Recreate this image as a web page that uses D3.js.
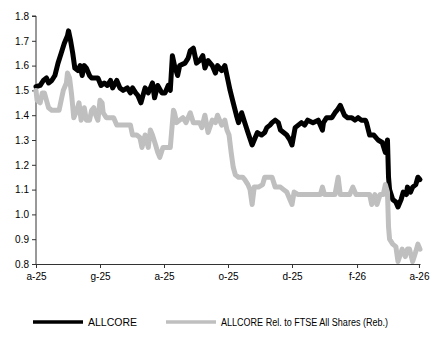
<!DOCTYPE html>
<html>
<head>
<meta charset="utf-8">
<script src="https://cdn.jsdelivr.net/npm/d3@7"></script>
<style>
  html, body { margin: 0; padding: 0; background: #fff; }
  svg { display: block; font-family: "Liberation Sans", Arial, sans-serif; }
</style>
</head>
<body>
<svg id="chart" width="433" height="341"></svg>
<script>
// ALLCORE price series
const allcoreDates = [
  "2025-04-01","2025-04-05","2025-04-08","2025-04-11","2025-04-13","2025-04-16","2025-04-19","2025-04-22",
  "2025-04-25","2025-04-28","2025-05-01","2025-05-02","2025-05-04","2025-05-06","2025-05-08","2025-05-11",
  "2025-05-13","2025-05-15","2025-05-17","2025-05-19","2025-05-22","2025-05-24","2025-05-27","2025-05-30",
  "2025-06-02","2025-06-05","2025-06-08","2025-06-11","2025-06-13","2025-06-17","2025-06-20","2025-06-23",
  "2025-06-27","2025-06-30","2025-07-02","2025-07-05","2025-07-07","2025-07-10","2025-07-14","2025-07-17",
  "2025-07-21","2025-07-23","2025-07-26","2025-07-30","2025-08-02","2025-08-05","2025-08-07","2025-08-09",
  "2025-08-11","2025-08-14","2025-08-16","2025-08-21","2025-08-24","2025-08-26","2025-08-29","2025-09-01",
  "2025-09-04","2025-09-07","2025-09-09","2025-09-12","2025-09-16","2025-09-19","2025-09-21","2025-09-25",
  "2025-09-28","2025-10-01","2025-10-03","2025-10-06","2025-10-09","2025-10-11","2025-10-14","2025-10-17",
  "2025-10-20","2025-10-24","2025-10-27","2025-10-29","2025-11-02","2025-11-05","2025-11-07","2025-11-10",
  "2025-11-12","2025-11-15","2025-11-18","2025-11-20","2025-11-23","2025-11-26","2025-11-29","2025-12-01",
  "2025-12-04","2025-12-07","2025-12-10","2025-12-13","2025-12-16","2025-12-21","2025-12-26","2025-12-30",
  "2025-12-31","2026-01-03","2026-01-08","2026-01-11","2026-01-13","2026-01-16","2026-01-19","2026-01-20",
  "2026-01-23","2026-01-27","2026-01-30","2026-02-02","2026-02-05","2026-02-09","2026-02-10","2026-02-13",
  "2026-02-17","2026-02-21","2026-02-25","2026-02-28","2026-03-02","2026-03-03","2026-03-04","2026-03-07",
  "2026-03-10","2026-03-12","2026-03-15","2026-03-17","2026-03-20","2026-03-21","2026-03-24","2026-03-26",
  "2026-03-29","2026-03-31","2026-04-02"
];
const allcoreValues = [
  1.515,1.52,1.54,1.55,1.53,1.54,1.56,1.61,
  1.65,1.69,1.72,1.74,1.70,1.65,1.59,1.58,
  1.60,1.56,1.60,1.59,1.56,1.55,1.55,1.55,
  1.52,1.53,1.52,1.54,1.51,1.54,1.51,1.50,
  1.51,1.49,1.51,1.49,1.48,1.45,1.51,1.49,
  1.53,1.47,1.52,1.49,1.49,1.52,1.50,1.64,
  1.60,1.56,1.60,1.61,1.63,1.66,1.67,1.61,
  1.62,1.64,1.59,1.62,1.60,1.57,1.60,1.58,
  1.60,1.54,1.50,1.45,1.40,1.37,1.41,1.37,
  1.33,1.28,1.31,1.33,1.32,1.33,1.35,1.36,
  1.37,1.38,1.37,1.34,1.33,1.32,1.30,1.28,
  1.35,1.36,1.37,1.36,1.38,1.37,1.38,1.34,
  1.37,1.39,1.39,1.41,1.42,1.44,1.41,1.40,
  1.39,1.39,1.38,1.39,1.38,1.38,1.37,1.32,
  1.32,1.30,1.29,1.25,1.30,1.15,1.10,1.06,
  1.05,1.03,1.06,1.09,1.08,1.11,1.09,1.11,
  1.12,1.15,1.14
];

// ALLCORE relative to FTSE All Shares (rebased)
const relDates = [
  "2025-04-01","2025-04-02","2025-04-05","2025-04-07","2025-04-09","2025-04-11","2025-04-13","2025-04-16",
  "2025-04-20","2025-04-23","2025-04-25","2025-04-27","2025-04-30","2025-05-01","2025-05-03","2025-05-05",
  "2025-05-07","2025-05-10","2025-05-12","2025-05-14","2025-05-17","2025-05-19","2025-05-22","2025-05-24",
  "2025-05-26","2025-05-28","2025-05-30","2025-06-01","2025-06-03","2025-06-04","2025-06-07","2025-06-11",
  "2025-06-14","2025-06-17","2025-06-22","2025-06-26","2025-06-30","2025-07-02","2025-07-06","2025-07-09",
  "2025-07-11","2025-07-14","2025-07-17","2025-07-19","2025-07-21","2025-07-24","2025-07-26","2025-07-28",
  "2025-07-31","2025-08-04","2025-08-07","2025-08-10","2025-08-11","2025-08-13","2025-08-16","2025-08-19",
  "2025-08-22","2025-08-26","2025-08-29","2025-09-01","2025-09-04","2025-09-06","2025-09-09","2025-09-12",
  "2025-09-16","2025-09-19","2025-09-21","2025-09-25","2025-09-28","2025-09-30","2025-10-02","2025-10-04",
  "2025-10-06","2025-10-08","2025-10-11","2025-10-15","2025-10-17","2025-10-20","2025-10-22","2025-10-24",
  "2025-10-26","2025-10-30","2025-11-03","2025-11-05","2025-11-10","2025-11-12","2025-11-15","2025-11-20",
  "2025-11-23","2025-11-26","2025-11-29","2025-12-01","2025-12-03","2025-12-07","2025-12-10","2025-12-14",
  "2025-12-18","2025-12-23","2025-12-28","2025-12-30","2026-01-01","2026-01-06","2026-01-11","2026-01-14",
  "2026-01-16","2026-01-20","2026-01-25","2026-01-28","2026-01-31","2026-02-04","2026-02-09","2026-02-13",
  "2026-02-15","2026-02-18","2026-02-20","2026-02-23","2026-02-26","2026-02-28","2026-03-02","2026-03-03",
  "2026-03-04","2026-03-07","2026-03-10","2026-03-12","2026-03-16","2026-03-19","2026-03-21","2026-03-23",
  "2026-03-26","2026-03-29","2026-03-31","2026-04-02"
];
const relValues = [
  1.50,1.46,1.45,1.49,1.49,1.46,1.43,1.42,
  1.42,1.42,1.46,1.50,1.53,1.57,1.55,1.48,
  1.39,1.42,1.45,1.38,1.43,1.38,1.38,1.42,
  1.43,1.40,1.38,1.46,1.45,1.41,1.39,1.39,
  1.39,1.36,1.36,1.36,1.36,1.32,1.32,1.31,
  1.27,1.32,1.27,1.34,1.32,1.28,1.25,1.23,
  1.27,1.27,1.27,1.42,1.41,1.37,1.38,1.39,
  1.37,1.41,1.37,1.37,1.37,1.35,1.40,1.33,
  1.38,1.37,1.40,1.36,1.38,1.34,1.32,1.25,
  1.19,1.16,1.15,1.15,1.14,1.12,1.10,1.04,
  1.11,1.11,1.12,1.15,1.15,1.15,1.11,1.11,
  1.10,1.09,1.06,1.04,1.09,1.08,1.08,1.08,
  1.08,1.08,1.08,1.11,1.08,1.08,1.08,1.15,
  1.08,1.08,1.08,1.11,1.08,1.08,1.08,1.08,
  1.04,1.08,1.04,1.08,1.08,1.12,1.09,0.95,
  0.90,0.88,0.87,0.81,0.86,0.83,0.86,0.86,
  0.81,0.85,0.88,0.86
];

const tickDates = ["2025-04-01","2025-06-01","2025-08-01","2025-10-01","2025-12-01","2026-02-01","2026-04-01"];
const tickLabels = ["a-25","g-25","a-25","o-25","d-25","f-26","a-26"];
const yTicks = [0.8,0.9,1.0,1.1,1.2,1.3,1.4,1.5,1.6,1.7,1.8];
const seriesNames = ["ALLCORE","ALLCORE Rel. to FTSE All Shares (Reb.)"];
const seriesColors = ["#000000","#bfbfbf"];

const parse = d3.utcParse("%Y-%m-%d");
const svg = d3.select("#chart");

const x = d3.scaleUtc()
  .domain([parse("2025-04-01"), parse("2026-04-02")])
  .range([36, 420]);
const y = d3.scaleLinear().domain([0.8, 1.8]).range([264, 16]);

const axisColor = "#333";

// y axis
const yAxis = svg.append("g")
  .attr("transform", "translate(36,0)")
  .call(d3.axisLeft(y).tickValues(yTicks).tickFormat(d3.format(".1f")).tickSize(4).tickPadding(3));
// x axis
const xAxis = svg.append("g")
  .attr("transform", "translate(0,264)")
  .call(d3.axisBottom(x).tickValues(tickDates.map(parse))
    .tickFormat((d, i) => tickLabels[i]).tickSize(4).tickSizeOuter(0).tickPadding(5));

[yAxis, xAxis].forEach(g => {
  g.selectAll("path, line").attr("stroke", axisColor).attr("stroke-width", 1);
  g.selectAll("text").attr("fill", "#000").style("font-size", "10px")
    .style("font-family", "'Liberation Sans', Arial, sans-serif");
});
yAxis.select(".domain").attr("d", `M-4,${y(1.8)}H0V${y(0.8)}`);

const line = d3.line()
  .x(d => x(d[0]))
  .y(d => y(d[1]))
  .curve(d3.curveLinear);

const allcore = allcoreDates.map((d, i) => [parse(d), allcoreValues[i]]);
const rel = relDates.map((d, i) => [parse(d), relValues[i]]);

svg.append("path").datum(allcore)
  .attr("d", line).attr("fill", "none")
  .attr("stroke", seriesColors[0]).attr("stroke-width", 5)
  .attr("stroke-linejoin", "round").attr("stroke-linecap", "round");

svg.append("path").datum(rel)
  .attr("d", line).attr("fill", "none")
  .attr("stroke", seriesColors[1]).attr("stroke-width", 5)
  .attr("stroke-linejoin", "round").attr("stroke-linecap", "round");

// legend
const legendX = [33, 166];
const legendTextWidth = [49, 167];
const legend = svg.append("g");
seriesNames.forEach((name, i) => {
  legend.append("line")
    .attr("x1", legendX[i]).attr("x2", legendX[i] + 50)
    .attr("y1", 322).attr("y2", 322)
    .attr("stroke", seriesColors[i]).attr("stroke-width", 3.5);
  legend.append("text")
    .attr("x", legendX[i] + 55).attr("y", 325.5)
    .style("font-size", "10px")
    .attr("fill", "#000")
    .attr("textLength", legendTextWidth[i])
    .attr("lengthAdjust", "spacingAndGlyphs")
    .text(name);
});
</script>
</body>
</html>
